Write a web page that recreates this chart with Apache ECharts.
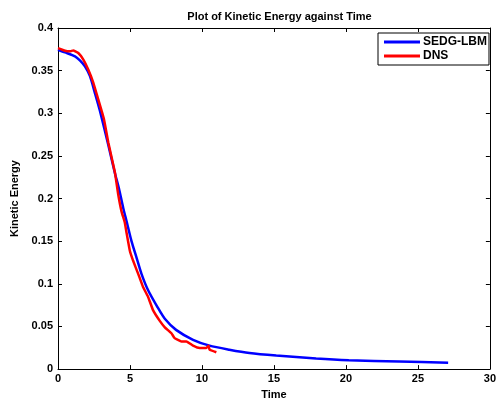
<!DOCTYPE html>
<html><head><meta charset="utf-8">
<script src="https://cdn.jsdelivr.net/npm/echarts@6/dist/echarts.min.js"></script>
<style>html,body{margin:0;padding:0;background:#fff}#c{width:499px;height:405px}</style>
</head><body><div id="c"></div>
<script>
var xTicks = [0, 5, 10, 15, 20, 25, 30];
var yTicks = [0, 0.05, 0.1, 0.15, 0.2, 0.25, 0.3, 0.35, 0.4];
var seriesNames = ['SEDG-LBM', 'DNS'];

var lbmTime = [0, 0.49, 1.18, 1.52, 1.87, 2.22, 2.56, 2.91, 3.49, 3.95, 4.23, 4.53, 4.76, 5.1, 5.45, 5.8, 6.26, 6.9, 7.42, 8.2, 9.38, 10.53, 11.9, 13.3, 15.16, 17.93, 20.2, 23.7, 27.1];
var lbmKE   = [0.3745, 0.3714, 0.3667, 0.362, 0.355, 0.3435, 0.324, 0.303, 0.263, 0.23, 0.212, 0.189, 0.1736, 0.1504, 0.131, 0.1117, 0.0924, 0.073, 0.059, 0.046, 0.0344, 0.0275, 0.0228, 0.0189, 0.0159, 0.0124, 0.0104, 0.0089, 0.0075];

var dnsTime = [0, 0.49, 0.83, 1.06, 1.41, 1.76, 2.1, 2.45, 2.79, 3.19, 3.49, 3.95, 4.18, 4.41, 4.64, 4.76, 4.99, 5.22, 5.57, 5.91, 6.26, 6.6, 7.07, 7.42, 7.88, 8.1, 8.57, 8.92, 9.38, 9.84, 10.3, 10.46, 10.53, 11.0];
var dnsKE   = [0.3764, 0.3733, 0.3726, 0.3737, 0.3707, 0.363, 0.3513, 0.336, 0.3165, 0.2933, 0.266, 0.231, 0.205, 0.185, 0.172, 0.16, 0.1388, 0.127, 0.1117, 0.0962, 0.0846, 0.0692, 0.0566, 0.049, 0.042, 0.0363, 0.0325, 0.0325, 0.0275, 0.0247, 0.0247, 0.0275, 0.0228, 0.0197];

function pairs(a, b) { return a.map(function (v, i) { return [v, b[i]]; }); }

var font = '"Liberation Sans", Arial, sans-serif';
var chart = echarts.init(document.getElementById('c'), null, {renderer: 'canvas'});
var axisLine = {show: true, onZero: false, lineStyle: {color: '#000', width: 1}};
var tick = {show: true, inside: true, length: 4, lineStyle: {color: '#000'}};
var lbl = {color: '#000', fontFamily: font, fontWeight: 'bold', fontSize: 11};
chart.setOption({
  animation: false,
  backgroundColor: '#fff',
  title: {text: 'Plot of Kinetic Energy against Time', left: 274.5, textAlign: 'center', top: 6,
    textStyle: {fontFamily: font, fontWeight: 'bold', fontSize: 11, color: '#000'}},
  grid: {left: 58, right: 8, top: 28, bottom: 32, containLabel: false},
  legend: {
    data: seriesNames, orient: 'vertical', left: 378, top: 33,
    backgroundColor: '#fff', borderColor: '#000', borderWidth: 1,
    padding: [3, 2, 3, 6], itemGap: 2, itemWidth: 36, itemHeight: 3, icon: 'rect',
    textStyle: {fontFamily: font, fontWeight: 'bold', fontSize: 12, color: '#000', padding: [0, 0, 0, -2]}
  },
  xAxis: [
    {type: 'value', min: 0, max: 30, interval: 5, position: 'bottom',
     name: 'Time', nameLocation: 'middle', nameGap: 18,
     nameTextStyle: {fontFamily: font, fontWeight: 'bold', fontSize: 11, color: '#000'},
     axisLine: axisLine, axisTick: tick, splitLine: {show: false},
     axisLabel: Object.assign({margin: 4, formatter: function (v) { return xTicks.indexOf(v) >= 0 ? String(v) : ''; }}, lbl)},
    {type: 'value', min: 0, max: 30, interval: 5, position: 'top',
     axisLine: axisLine, axisTick: tick, splitLine: {show: false}, axisLabel: {show: false}}
  ],
  yAxis: [
    {type: 'value', min: 0, max: 0.4, interval: 0.05, position: 'left',
     name: 'Kinetic Energy', nameLocation: 'middle', nameGap: 28,
     nameTextStyle: {fontFamily: font, fontWeight: 'bold', fontSize: 11, color: '#000'},
     axisLine: axisLine, axisTick: tick, splitLine: {show: false},
     axisLabel: Object.assign({margin: 5, formatter: function (v) {
       var m = yTicks.filter(function (t) { return Math.abs(t - v) < 1e-9; });
       return m.length ? String(Math.round(v * 100) / 100) : ''; }}, lbl)},
    {type: 'value', min: 0, max: 0.4, interval: 0.05, position: 'right',
     axisLine: axisLine, axisTick: tick, splitLine: {show: false}, axisLabel: {show: false}}
  ],
  series: [
    {name: seriesNames[0], type: 'line', data: pairs(lbmTime, lbmKE), smooth: 0.25, showSymbol: false,
     lineStyle: {color: '#0000ff', width: 2.5}, itemStyle: {color: '#0000ff'}, z: 2},
    {name: seriesNames[1], type: 'line', data: pairs(dnsTime, dnsKE), smooth: 0.1, showSymbol: false,
     lineStyle: {color: '#ff0000', width: 2.5}, itemStyle: {color: '#ff0000'}, z: 3}
  ]
});
</script></body></html>
